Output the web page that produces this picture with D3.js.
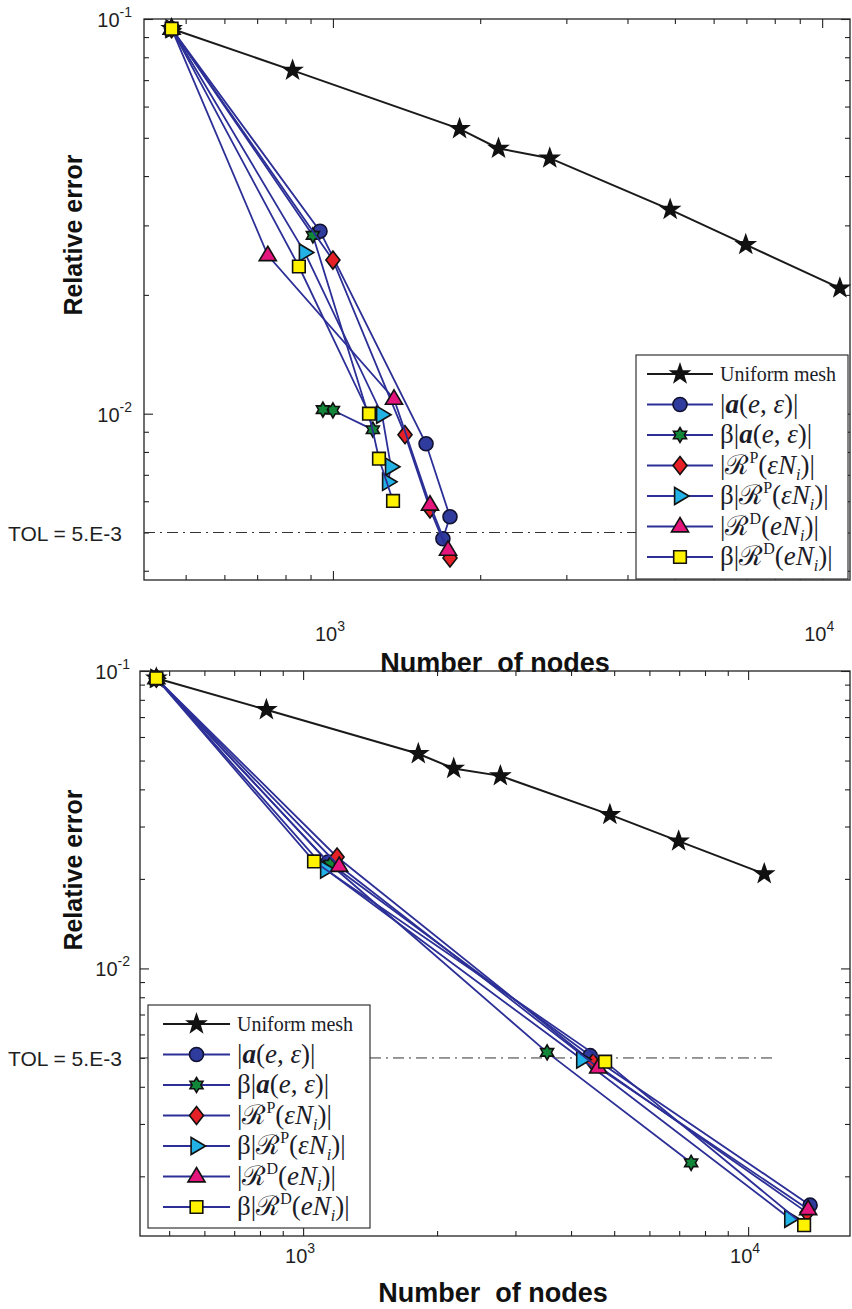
<!DOCTYPE html>
<html>
<head>
<meta charset="utf-8">
<script src="https://cdn.jsdelivr.net/npm/d3@7"></script>
<style>
    body { margin: 0; background: #fff; }
    svg { display: block; }
    .tick-label { font-family: "Liberation Sans", Arial, sans-serif; font-size: 20px; fill: #1f1f1f; }
    .tol-label { font-family: "Liberation Sans", Arial, sans-serif; font-size: 21px; fill: #1f1f1f; }
    .axis-title { font-family: "Liberation Sans", Arial, sans-serif; font-size: 27px; font-weight: bold; fill: #111; }
    .legend-text { font-family: "Liberation Serif", "DejaVu Serif", serif; fill: #1c1c28; }
</style>
</head>
<body>
<svg id="chart" width="852" height="1309"></svg>
<script>
(function () {
    'use strict';

    // ---- data ----
    var uniformNodes = [468, 827, 1815, 2180, 2775, 4890, 6980, 10870];
    var uniformError = [0.0945, 0.0741, 0.0527, 0.0470, 0.0444, 0.0329, 0.0268, 0.0208];

    var tolValue = 5e-3;
    var tolNodes = [400, 11500];

    // top panel: adaptive runs
    var topCircleNodes = [468, 941, 1550, 1735, 1678];
    var topCircleError = [0.0945, 0.0290, 0.00839, 0.00548, 0.00482];
    var topGreenNodes = [468, 910, 1207, 1000, 954];
    var topGreenError = [0.0945, 0.0283, 0.00911, 0.01020, 0.01024];
    var topDiamondNodes = [468, 1000, 1404, 1579, 1735];
    var topDiamondError = [0.0945, 0.0245, 0.00885, 0.00574, 0.00431];
    var topCyanNodes = [468, 876, 1260, 1314, 1296];
    var topCyanError = [0.0945, 0.0256, 0.00994, 0.00734, 0.00672];
    var topMagentaNodes = [468, 736, 1333, 1579, 1719];
    var topMagentaError = [0.0945, 0.0252, 0.0109, 0.00588, 0.00452];
    var topSquareNodes = [468, 852, 1185, 1242, 1327];
    var topSquareError = [0.0945, 0.0236, 0.0100, 0.00769, 0.00601];

    // bottom panel: adaptive runs
    var botCircleNodes = [468, 1138, 4416, 13780];
    var botCircleError = [0.0945, 0.0228, 0.00509, 0.00160];
    var botGreenNodes = [468, 1150, 3534, 7446];
    var botGreenError = [0.0945, 0.0224, 0.00522, 0.00222];
    var botDiamondNodes = [468, 1192, 4485, 13570];
    var botDiamondError = [0.0945, 0.0237, 0.00483, 0.00151];
    var botCyanNodes = [468, 1126, 4236, 12430];
    var botCyanError = [0.0945, 0.0215, 0.00494, 0.00144];
    var botMagentaNodes = [468, 1205, 4603, 13640];
    var botMagentaError = [0.0945, 0.0221, 0.00464, 0.00155];
    var botSquareNodes = [468, 1058, 4772, 13360];
    var botSquareError = [0.0945, 0.0229, 0.00486, 0.00137];

    var xMajorTicks = [1e3, 1e4];
    var xMajorExp = ['3', '4'];
    var yMajorTicks = [1e-1, 1e-2];
    var yMajorExp = ['-1', '-2'];
    var minorMultipliers = [2, 3, 4, 5, 6, 7, 8, 9];

    var tolLabel = 'TOL = 5.E-3';
    var xTitle = 'Number  of nodes';
    var yTitle = 'Relative error';

    // ---- marker shapes ----
    function starType(points, inner) {
        return {
            draw: function (ctx, size) {
                var r = Math.sqrt(size), ri = r * inner;
                for (var k = 0; k < points * 2; k++) {
                    var a = k * Math.PI / points - Math.PI / 2;
                    var rr = k % 2 ? ri : r;
                    if (k === 0) ctx.moveTo(rr * Math.cos(a), rr * Math.sin(a));
                    else ctx.lineTo(rr * Math.cos(a), rr * Math.sin(a));
                }
                ctx.closePath();
            }
        };
    }
    var diamondType = {
        draw: function (ctx, size) {
            var r = Math.sqrt(size);
            ctx.moveTo(0, -r); ctx.lineTo(r * 0.78, 0); ctx.lineTo(0, r); ctx.lineTo(-r * 0.78, 0); ctx.closePath();
        }
    };
    var triUpType = {
        draw: function (ctx, size) {
            var r = Math.sqrt(size);
            ctx.moveTo(0, -r); ctx.lineTo(r * 0.95, r * 0.6); ctx.lineTo(-r * 0.95, r * 0.6); ctx.closePath();
        }
    };
    var triRightType = {
        draw: function (ctx, size) {
            var r = Math.sqrt(size);
            ctx.moveTo(r, 0); ctx.lineTo(-r * 0.6, r * 0.95); ctx.lineTo(-r * 0.6, -r * 0.95); ctx.closePath();
        }
    };
    var squareType = {
        draw: function (ctx, size) {
            var r = Math.sqrt(size);
            ctx.rect(-r, -r, 2 * r, 2 * r);
        }
    };
    var circleType = {
        draw: function (ctx, size) {
            var r = Math.sqrt(size);
            ctx.moveTo(r, 0); ctx.arc(0, 0, r, 0, 2 * Math.PI);
        }
    };

    var navy = '#2c2f96';
    var styles = {
        uniform: { type: starType(5, 0.4), r: 9.5, fill: '#111', line: '#1a1a1a', stroke: '#111' },
        circle: { type: circleType, r: 7, fill: '#2f3c9e', line: navy, stroke: '#101030' },
        green: { type: starType(6, 0.58), r: 7.5, fill: '#12873a', line: navy, stroke: '#111' },
        diamond: { type: diamondType, r: 9, fill: '#e52127', line: navy, stroke: '#111' },
        cyan: { type: triRightType, r: 9, fill: '#22b2e6', line: navy, stroke: '#111' },
        magenta: { type: triUpType, r: 9, fill: '#e4157c', line: navy, stroke: '#111' },
        square: { type: squareType, r: 6.3, fill: '#fff200', line: navy, stroke: '#111' }
    };

    // legend labels: pieces of text with font styles
    var P = function (t, o) { var p = o || {}; p.t = t; return p; };
    var legendRows = [
        { style: 'uniform', parts: [P('Uniform mesh', { size: 20 })] },
        { style: 'circle', parts: [P('|'), P('a', { b: 1, i: 1 }), P('('), P('e', { i: 1 }), P(', '), P('ε', { i: 1 }), P(')'), P('|')] },
        { style: 'green', parts: [P('β'), P('|'), P('a', { b: 1, i: 1 }), P('('), P('e', { i: 1 }), P(', '), P('ε', { i: 1 }), P(')'), P('|')] },
        { style: 'diamond', parts: [P('|'), P('ℛ'), P('P', { sup: 1 }), P('('), P('ε', { i: 1 }), P('N', { i: 1 }), P('i', { sub: 1, i: 1 }), P(')'), P('|')] },
        { style: 'cyan', parts: [P('β'), P('|'), P('ℛ'), P('P', { sup: 1 }), P('('), P('ε', { i: 1 }), P('N', { i: 1 }), P('i', { sub: 1, i: 1 }), P(')'), P('|')] },
        { style: 'magenta', parts: [P('|'), P('ℛ'), P('D', { sup: 1 }), P('('), P('e', { i: 1 }), P('N', { i: 1 }), P('i', { sub: 1, i: 1 }), P(')'), P('|')] },
        { style: 'square', parts: [P('β'), P('|'), P('ℛ'), P('D', { sup: 1 }), P('('), P('e', { i: 1 }), P('N', { i: 1 }), P('i', { sub: 1, i: 1 }), P(')'), P('|')] }
    ];

    function zipSeries(nodes, errors) {
        return nodes.map(function (n, i) { return { n: n, e: errors[i] }; });
    }

    var panels = [
        {
            x0: 144, x1: 850, y0: 19, y1: 580,
            xDomain: [411, 11400], yDomain: [0.00379, 0.1],
            series: [
                ['uniform', zipSeries(uniformNodes, uniformError)],
                ['circle', zipSeries(topCircleNodes, topCircleError)],
                ['green', zipSeries(topGreenNodes, topGreenError)],
                ['diamond', zipSeries(topDiamondNodes, topDiamondError)],
                ['cyan', zipSeries(topCyanNodes, topCyanError)],
                ['magenta', zipSeries(topMagentaNodes, topMagentaError)],
                ['square', zipSeries(topSquareNodes, topSquareError)]
            ],
            legend: { x: 636, y: 355, w: 212, h: 224, lx0: 11, lx1: 77, tx: 84 },
            xLabelY: 641, xTitleY: 672, yTitleX: 82, yTitleY: 235, yLabelX: 132, tolX: 8
        },
        {
            x0: 140, x1: 850, y0: 671, y1: 1236,
            xDomain: [430, 16940], yDomain: [0.00126, 0.1],
            series: [
                ['uniform', zipSeries(uniformNodes, uniformError)],
                ['circle', zipSeries(botCircleNodes, botCircleError)],
                ['green', zipSeries(botGreenNodes, botGreenError)],
                ['diamond', zipSeries(botDiamondNodes, botDiamondError)],
                ['cyan', zipSeries(botCyanNodes, botCyanError)],
                ['magenta', zipSeries(botMagentaNodes, botMagentaError)],
                ['square', zipSeries(botSquareNodes, botSquareError)]
            ],
            legend: { x: 148, y: 1005, w: 222, h: 223, lx0: 15, lx1: 82, tx: 89 },
            xLabelY: 1263, xTitleY: 1302, yTitleX: 82, yTitleY: 870, yLabelX: 130, tolX: 8
        }
    ];

    var svg = d3.select('#chart');

    function minorTicks(domain) {
        var out = [];
        var lo = Math.floor(Math.log10(domain[0])), hi = Math.ceil(Math.log10(domain[1]));
        for (var d = lo; d <= hi; d++) {
            minorMultipliers.forEach(function (m) {
                var v = m * Math.pow(10, d);
                if (v > domain[0] && v < domain[1]) out.push(v);
            });
        }
        return out;
    }

    function powerText(sel, exp) {
        sel.append('tspan').text('10');
        sel.append('tspan').attr('dy', -10).attr('font-size', 14).text(exp);
    }

    function drawPanel(p) {
        var x = d3.scaleLog().domain(p.xDomain).range([p.x0, p.x1]);
        var y = d3.scaleLog().domain(p.yDomain).range([p.y1, p.y0]);
        var g = svg.append('g');

        var xMinor = minorTicks(p.xDomain), yMinor = minorTicks(p.yDomain);
        var xMajor = xMajorTicks.filter(function (v) { return v >= p.xDomain[0] && v <= p.xDomain[1]; });
        var yMajor = yMajorTicks.filter(function (v) { return v >= p.yDomain[0] && v <= p.yDomain[1]; });

        function axisPair(axisFn, scale, pos, vals, size) {
            g.append('g')
                .attr('transform', pos)
                .call(axisFn(scale).tickValues(vals).tickSize(size).tickFormat(''))
                .call(function (a) {
                    a.select('.domain').remove();
                    a.selectAll('line').attr('stroke', '#222').attr('stroke-width', 1.1);
                });
        }
        axisPair(d3.axisBottom, x, 'translate(0,' + p.y1 + ')', xMinor, -5);
        axisPair(d3.axisBottom, x, 'translate(0,' + p.y1 + ')', xMajor, -9);
        axisPair(d3.axisTop, x, 'translate(0,' + p.y0 + ')', xMinor, -5);
        axisPair(d3.axisTop, x, 'translate(0,' + p.y0 + ')', xMajor, -9);
        axisPair(d3.axisLeft, y, 'translate(' + p.x0 + ',0)', yMinor, -5);
        axisPair(d3.axisLeft, y, 'translate(' + p.x0 + ',0)', yMajor, -9);
        axisPair(d3.axisRight, y, 'translate(' + p.x1 + ',0)', yMinor, -5);
        axisPair(d3.axisRight, y, 'translate(' + p.x1 + ',0)', yMajor, -9);

        g.append('rect')
            .attr('x', p.x0).attr('y', p.y0)
            .attr('width', p.x1 - p.x0).attr('height', p.y1 - p.y0)
            .attr('fill', 'none').attr('stroke', '#222').attr('stroke-width', 1.3);

        // tick labels
        xMajor.forEach(function (v) {
            var t = g.append('text').attr('class', 'tick-label')
                .attr('x', x(v) - 3).attr('y', p.xLabelY).attr('text-anchor', 'middle');
            powerText(t, xMajorExp[xMajorTicks.indexOf(v)]);
        });
        yMajor.forEach(function (v) {
            var t = g.append('text').attr('class', 'tick-label')
                .attr('x', p.yLabelX).attr('y', y(v) + 8).attr('text-anchor', 'end');
            powerText(t, yMajorExp[yMajorTicks.indexOf(v)]);
        });

        // titles
        g.append('text').attr('class', 'axis-title')
            .attr('x', (p.x0 + p.x1) / 2 - 2).attr('y', p.xTitleY)
            .attr('text-anchor', 'middle').style('white-space', 'pre').text(xTitle);
        g.append('text').attr('class', 'axis-title')
            .attr('font-size', 25)
            .style('font-size', '25px')
            .attr('transform', 'translate(' + p.yTitleX + ',' + p.yTitleY + ') rotate(-90)')
            .attr('text-anchor', 'middle').text(yTitle);

        // tolerance line
        g.append('line')
            .attr('x1', Math.max(x(tolNodes[0]), p.x0)).attr('x2', Math.min(x(tolNodes[1]), p.x1))
            .attr('y1', y(tolValue)).attr('y2', y(tolValue))
            .attr('stroke', '#333').attr('stroke-width', 1)
            .attr('stroke-dasharray', '11,5,2,5');
        g.append('text').attr('class', 'tol-label')
            .attr('x', p.tolX).attr('y', y(tolValue) + 8).text(tolLabel);

        // series
        var line = d3.line().x(function (d) { return x(d.n); }).y(function (d) { return y(d.e); });
        var sym = d3.symbol();
        p.series.forEach(function (s) {
            var st = styles[s[0]];
            g.append('path').datum(s[1])
                .attr('d', line).attr('fill', 'none')
                .attr('stroke', st.line).attr('stroke-width', s[0] === 'uniform' ? 2 : 1.8);
            g.append('g').selectAll('path').data(s[1]).join('path')
                .attr('transform', function (d) { return 'translate(' + x(d.n) + ',' + y(d.e) + ')'; })
                .attr('d', sym.type(st.type).size(st.r * st.r)())
                .attr('fill', st.fill).attr('stroke', st.stroke).attr('stroke-width', 1.6);
        });

        // legend
        var L = p.legend;
        var lg = g.append('g').attr('transform', 'translate(' + L.x + ',' + L.y + ')');
        lg.append('rect').attr('width', L.w).attr('height', L.h)
            .attr('fill', '#fff').attr('stroke', '#333').attr('stroke-width', 1.2);
        legendRows.forEach(function (row, i) {
            var st = styles[row.style];
            var cy = 19 + i * 30.5;
            lg.append('line').attr('x1', L.lx0).attr('x2', L.lx1).attr('y1', cy).attr('y2', cy)
                .attr('stroke', st.line).attr('stroke-width', 2);
            lg.append('path').attr('transform', 'translate(' + (L.lx0 + L.lx1) / 2 + ',' + cy + ')')
                .attr('d', sym.type(st.type).size(st.r * st.r)())
                .attr('fill', st.fill).attr('stroke', st.stroke).attr('stroke-width', 1.6);
            var t = lg.append('text').attr('class', 'legend-text')
                .attr('x', L.tx).attr('y', cy + 8).attr('font-size', 27);
            var shift = 0;
            row.parts.forEach(function (part) {
                var target = part.sup ? -11 : part.sub ? 6 : 0;
                var ts = t.append('tspan').attr('dy', target - shift).text(part.t);
                shift = target;
                if (part.size) ts.attr('font-size', part.size).attr('dy', -1);
                if (part.sup || part.sub) ts.attr('font-size', 16);
                if (part.i) ts.attr('font-style', 'italic');
                if (part.b) ts.attr('font-weight', 'bold');
            });
        });
    }

    panels.forEach(drawPanel);
}());
</script>
</body>
</html>
